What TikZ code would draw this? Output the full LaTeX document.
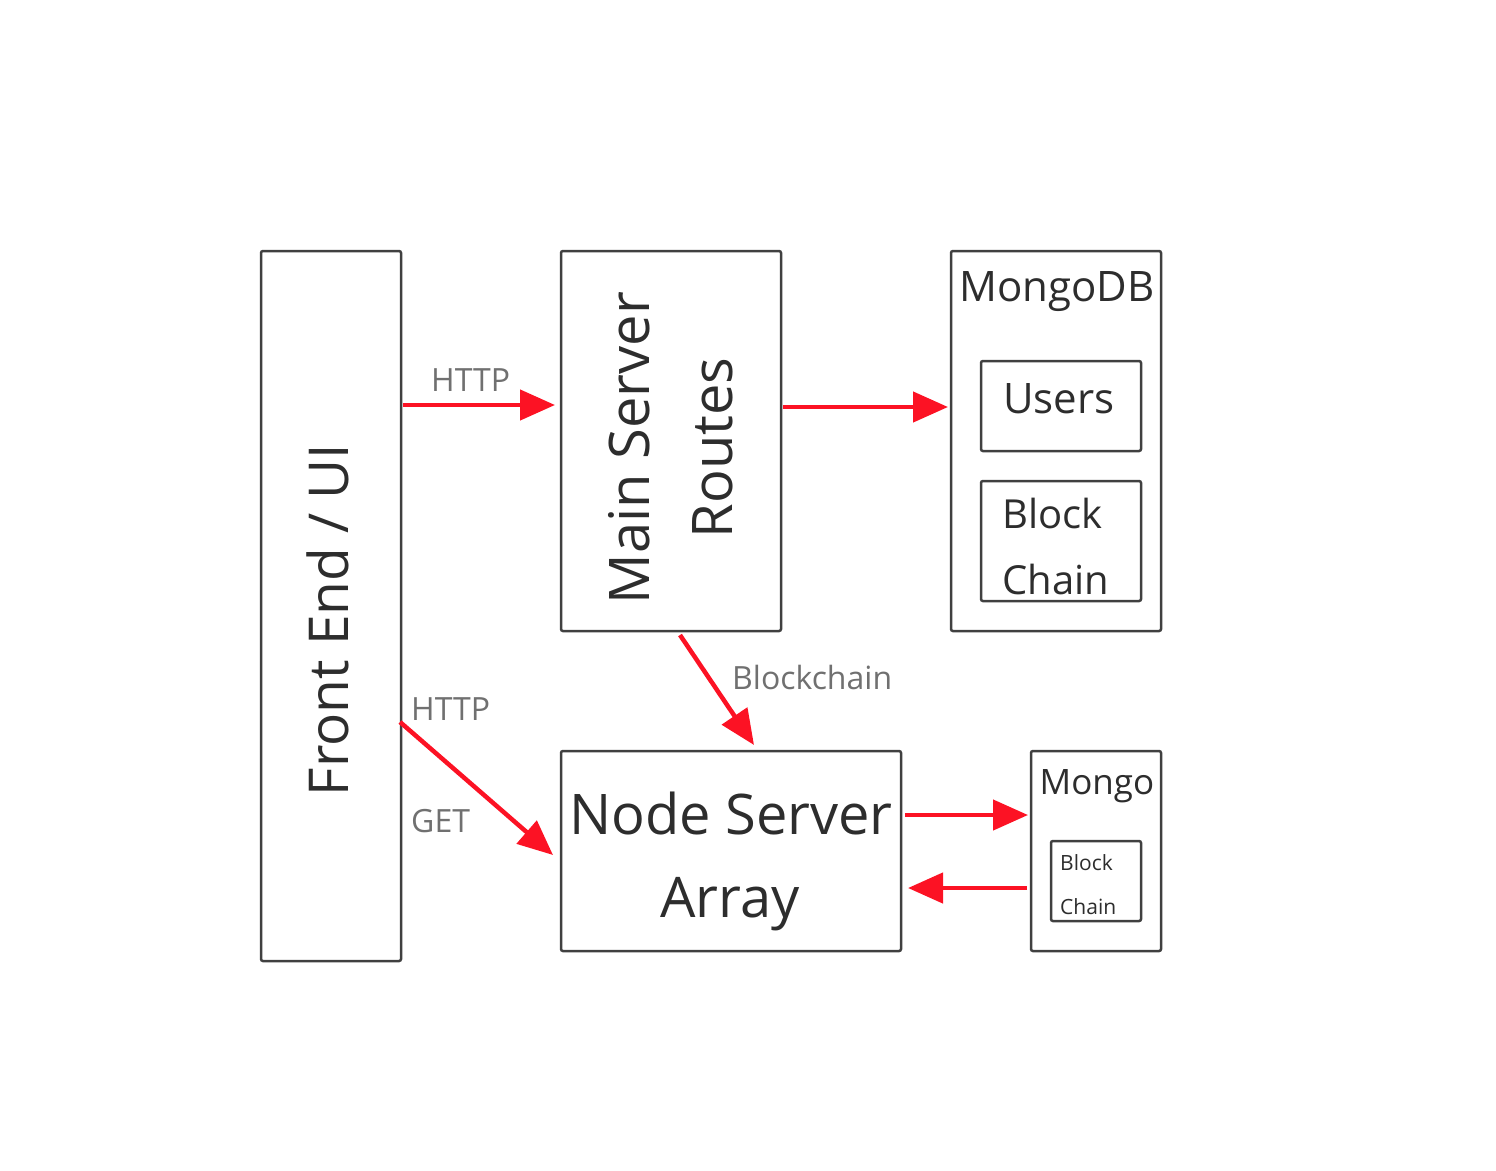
\documentclass[tikz,border=0pt]{standalone}
\usepackage{fontspec}
\setmainfont{Open Sans}
\usetikzlibrary{arrows.meta,calc}
\definecolor{arred}{RGB}{252,18,36}
\definecolor{boxc}{RGB}{64,64,64}
\definecolor{txtc}{RGB}{45,45,45}
\definecolor{lblc}{RGB}{112,112,112}
\tikzset{
  box/.style={draw=boxc,line width=2.5pt,rounded corners=2pt,inner sep=0pt,outer sep=0pt,anchor=north west},
  arr/.style={draw=arred,line width=4.5pt,-{Triangle[length=35pt,width=30pt]}},
  lbl/.style={text=lblc,font=\fontsize{32}{38}\selectfont,inner sep=0pt,anchor=base west},
  txt/.style={text=txtc,inner sep=0pt},
}
\begin{document}
\begin{tikzpicture}[x=1pt,y=-1pt]
\useasboundingbox (0,0) rectangle (1496,1170);
% boxes
\node[box,minimum width=140pt,minimum height=710pt] (fe) at (261,251) {};
\node[box,minimum width=220pt,minimum height=380pt] (ms) at (561,251) {};
\node[box,minimum width=210pt,minimum height=380pt] (mdb) at (951,251) {};
\node[box,minimum width=160pt,minimum height=90pt] (us) at (981,361) {};
\node[box,minimum width=160pt,minimum height=120pt] (bc) at (981,481) {};
\node[box,minimum width=340pt,minimum height=200pt] (ns) at (561,751) {};
\node[box,minimum width=130pt,minimum height=200pt] (mg) at (1031,751) {};
\node[box,minimum width=90pt,minimum height=80pt] (bc2) at (1051,841) {};
% texts
\node[txt,rotate=90,anchor=base,font=\fontsize{55}{60}\selectfont] (tfe) at (348,620) {Front End / UI};
\node[txt,rotate=90,anchor=base,font=\fontsize{56}{60}\selectfont] (tms1) at (649,448) {Main Server};
\node[txt,rotate=90,anchor=base,font=\fontsize{56}{60}\selectfont] (tms2) at (732,448) {Routes};
\node[txt,anchor=base,font=\fontsize{42}{50}\selectfont] (tmdb) at (1057,301) {MongoDB};
\node[txt,anchor=base,font=\fontsize{42}{50}\selectfont] (tus) at (1059,413) {Users};
\node[txt,anchor=base west,font=\fontsize{40}{50}\selectfont] (tbc1) at (1002,528) {Block};
\node[txt,anchor=base west,font=\fontsize{40}{50}\selectfont] (tbc2) at (1002,594) {Chain};
\node[txt,anchor=base,font=\fontsize{56}{60}\selectfont] (tns1) at (731,834) {Node Server};
\node[txt,anchor=base,font=\fontsize{56}{60}\selectfont] (tns2) at (730,917) {Array};
\node[txt,anchor=base,font=\fontsize{35}{40}\selectfont] (tmg) at (1097,794) {Mongo};
\node[txt,anchor=base west,font=\fontsize{21}{25}\selectfont] (tbs1) at (1060,870) {Block};
\node[txt,anchor=base west,font=\fontsize{21}{25}\selectfont] (tbs2) at (1060,914) {Chain};
% labels
\node[lbl] (l1) at (431,391) {HTTP};
\node[lbl] (l2) at (732,689) {Blockchain};
\node[lbl] (l3) at (411,720) {HTTP};
\node[lbl] (l4) at (411,832) {GET};
% arrows
\coordinate (ya) at (0,405);
\coordinate (yb) at (0,407);
\coordinate (yc) at (0,815);
\coordinate (yd) at (0,888);
\draw[arr] ($(fe.east |- ya)+(2,0)$) -- ($(ms.west |- ya)+(-6,0)$);
\draw[arr] ($(ms.east |- yb)+(2,0)$) -- ($(mdb.west |- yb)+(-3,0)$);
\draw[arr] ($(ms.south)+(9,4)$) -- ($(ns.north)+(23,-6)$);
\draw[arr] ($(fe.east)+(-1,116)$) -- ($(ns.west)+(-8,4)$);
\draw[arr] ($(ns.east |- yc)+(4,0)$) -- ($(mg.west |- yc)+(-3,0)$);
\draw[arr] ($(mg.west |- yd)+(-4,0)$) -- ($(ns.east |- yd)+(7,0)$);
\end{tikzpicture}
\end{document}
